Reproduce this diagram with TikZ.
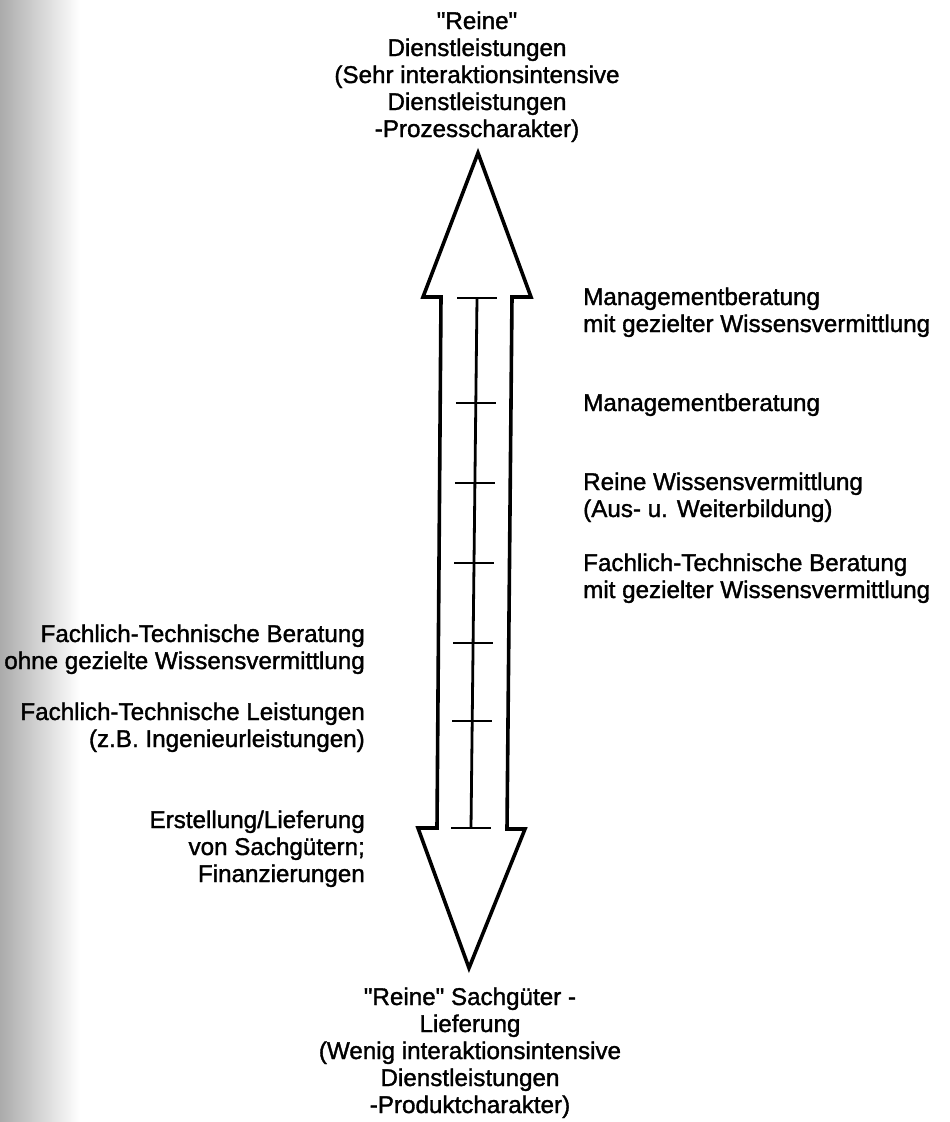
\documentclass[tikz,border=0pt]{standalone}
\usepackage{fontspec}
\setmainfont{Liberation Sans}[Ligatures=TeXOff, FakeBold=1.4]
\begin{document}
\begin{tikzpicture}[x=1pt,y=-1pt,
  lbl/.style={font=\fontsize{24.2}{27}\selectfont, inner sep=0pt},
  outline/.style={line width=3.6pt, line join=miter},
  scaleline/.style={line width=2.8pt},
  tick/.style={line width=2.8pt}]
\useasboundingbox (0,0) rectangle (950,1122);
% shaded margin strip on the left
\shade[left color=black!33, right color=white, draw=none] (0,0) rectangle (80,1122);

% double-headed block arrow
\draw[outline] (478,153) -- (531,297) -- (512,297) -- (507,829) -- (525,829)
  -- (469,968) -- (418,828) -- (437,828) -- (441,297) -- (423,297) -- cycle;

% scale inside the arrow
\draw[scaleline] (477,298) -- (471,828);
\foreach \yy in {298,403,483,563,643,721,828} {
  \pgfmathsetmacro\cx{477-6*(\yy-298)/530}
  \draw[tick] (\cx-20,\yy) -- (\cx+20,\yy);
}

% end labels (base anchor = baseline of the last line)
\node[lbl, align=center, anchor=base] (topend) at (477,137)
  {"Reine"\\Dienstleistungen\\(Sehr interaktionsintensive\\Dienstleistungen\\-Prozesscharakter)};
\node[lbl, align=center, anchor=base] (bottomend) at (470,1113)
  {"Reine" Sachgüter -\\Lieferung\\(Wenig interaktionsintensive\\Dienstleistungen\\-Produktcharakter)};

% labels to the right of the scale
\node[lbl, align=left, anchor=base west] (r1) at (583,332)
  {Managementberatung\\mit gezielter Wissensvermittlung};
\node[lbl, align=left, anchor=base west] (r2) at (583,411)
  {Managementberatung};
\node[lbl, align=left, anchor=base west] (r3) at (583,517)
  {Reine Wissensvermittlung\\(Aus- u. Weiterbildung)};
\node[lbl, align=left, anchor=base west] (r4) at (583,598)
  {Fachlich-Technische Beratung\\mit gezielter Wissensvermittlung};

% labels to the left of the scale
\node[lbl, align=right, anchor=base east] (l1) at (365,669)
  {Fachlich-Technische Beratung\\ohne gezielte Wissensvermittlung};
\node[lbl, align=right, anchor=base east] (l2) at (365,747)
  {Fachlich-Technische Leistungen\\(z.B. Ingenieurleistungen)};
\node[lbl, align=right, anchor=base east] (l3) at (365,882)
  {Erstellung/Lieferung\\von Sachgütern;\\Finanzierungen};
\end{tikzpicture}
\end{document}
